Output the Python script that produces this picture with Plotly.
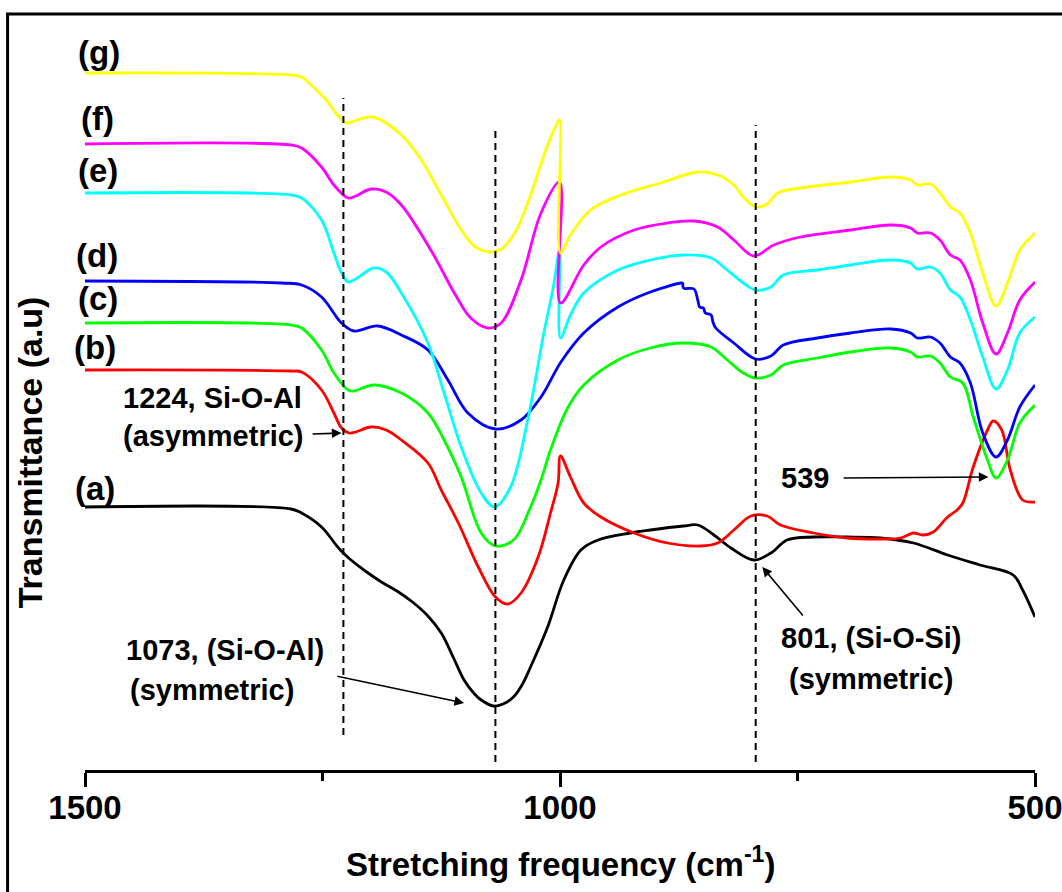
import plotly.graph_objects as go

# ---------------- data (wavenumber cm-1, transmittance a.u.) ----------------
wn_a = [1500, 1283, 1272, 1251, 1234, 1227, 1220, 1205, 1188, 1170, 1154, 1140, 1125, 1112, 1101, 1090, 1083, 1070,
        1060, 1049, 1040, 1031, 1013, 996, 978, 960,
        926, 905, 870, 855, 838, 820, 796, 778, 761, 733, 698, 663, 628, 592, 558, 523, 513, 500]
t_a = [26.3, 26.1, 25.7, 24.3, 22.3, 21.6, 21.0, 19.9, 18.8, 17.8, 16.7, 15.5, 13.7, 11.2, 9.0, 7.6, 7.0, 6.4,
       6.6, 7.3, 8.5, 10.3, 14.3, 19.0, 22.0, 23.0,
       23.7, 24.0, 24.4, 24.5, 23.5, 22.2, 21.0, 21.7, 23.0, 23.3, 23.3, 23.2, 22.7, 21.5, 20.5, 19.5, 18.0, 15.3]

wn_b = [1500, 1283, 1272, 1251, 1238, 1230, 1222, 1215, 1199, 1183, 1167, 1139, 1125, 1107, 1086, 1068, 1055, 1041,
        1023, 1010, 1002, 999.5, 989, 975, 957, 922, 887, 852, 834, 817, 799, 782, 768, 733, 698, 663, 642, 628, 618,
        607, 592, 582, 576, 565, 550, 544, 535, 526, 513, 500]
t_b = [40.0, 39.9, 39.8, 38.0, 35.7, 34.2, 33.7, 33.8, 34.3, 34.0, 33.0, 30.7, 28.0, 24.7, 20.3, 17.3, 16.6, 17.7,
       21.3, 25.7, 28.7, 31.4, 29.3, 26.7, 25.3, 23.7, 22.7, 22.4, 22.7, 24.0, 25.4, 25.4, 24.5, 23.7, 23.2, 23.1,
       23.2, 23.7, 23.5, 23.8, 25.3, 26.0, 26.7, 30.3, 34.0, 34.9, 34.0, 30.0, 27.0, 26.8]

wn_c = [1500, 1283, 1272, 1251, 1238, 1223, 1217, 1196, 1167, 1139, 1122, 1104, 1083, 1068, 1049, 1031, 1020, 1010,
        992, 975, 939, 905, 870, 841, 824, 807, 794, 778, 765, 729, 694, 652, 631, 624, 610, 600, 589, 576, 565, 550,
        541, 529, 516, 500]
t_c = [44.7, 44.5, 44.2, 42.0, 39.7, 38.0, 37.9, 38.5, 37.7, 35.7, 33.0, 29.3, 23.7, 22.4, 23.0, 26.3, 29.0, 32.0,
       36.2, 38.5, 41.0, 42.2, 42.7, 42.3, 41.0, 39.7, 39.2, 39.5, 40.5, 41.2, 41.8, 42.2, 41.8, 41.3, 41.4, 40.7,
       39.3, 38.7, 35.3, 31.0, 29.2, 31.0, 34.7, 36.5]

wn_d = [1500, 1293, 1272, 1251, 1230, 1217, 1192, 1167, 1139, 1118, 1097, 1068, 1041, 1020, 999, 975, 939, 905, 873,
        871, 870, 859, 855, 853, 849, 847, 841, 839, 836, 817, 794, 778, 765, 729, 694, 652, 631, 624, 610, 600, 589,
        579, 568, 555, 541, 529, 516, 500]
t_d = [48.9, 48.7, 48.5, 47.3, 44.7, 43.9, 44.4, 43.5, 42.0, 39.0, 35.7, 34.1, 35.0, 37.3, 40.8, 43.7, 46.3, 47.8, 48.7,
       48.7, 48.2, 48.1, 47.0, 46.3, 46.2, 45.7, 45.5, 44.8, 44.2, 42.7, 41.1, 41.4, 42.5, 43.2, 43.7, 44.1, 43.7,
       43.2, 43.3, 42.7, 41.3, 40.7, 38.7, 33.7, 31.3, 33.0, 36.3, 38.5]

wn_e = [1500, 1283, 1272, 1251, 1238, 1230, 1223, 1215, 1196, 1183, 1167, 1139, 1122, 1104, 1083, 1069, 1052, 1034,
        1017, 1007, 1000.5, 999.5, 989, 975, 939, 905, 870, 841, 824, 807, 794, 778, 765, 729, 694, 652, 631, 624, 610,
        600, 589, 579, 568, 555, 541, 529, 516, 500]
t_e = [57.7, 57.5, 57.2, 55.0, 51.7, 49.7, 48.8, 49.1, 50.2, 49.8, 47.7, 42.7, 37.7, 32.3, 27.7, 26.3, 28.3, 35.0,
       43.7, 48.3, 52.0, 43.2, 45.5, 47.7, 50.0, 51.0, 51.5, 51.2, 50.0, 48.7, 48.0, 48.3, 49.5, 50.0, 50.5, 51.0,
       50.7, 50.1, 50.3, 49.7, 48.0, 47.3, 45.0, 41.3, 38.1, 40.0, 43.7, 45.3]

wn_f = [1500, 1283, 1272, 1251, 1238, 1223, 1215, 1199, 1183, 1167, 1136, 1110, 1094, 1076, 1062, 1041, 1020, 1000.5,
        999.5, 975, 957, 922, 887, 859, 834, 817, 796, 775, 747, 694, 652, 631, 624, 610, 600, 589, 579, 568, 555, 541,
        529, 516, 500]
t_f = [62.6, 62.5, 62.2, 60.3, 58.5, 57.2, 57.4, 58.1, 57.8, 56.5, 52.0, 47.5, 45.2, 44.2, 44.7, 49.0, 55.7, 58.8,
       46.7, 50.5, 52.3, 54.0, 54.7, 54.9, 54.3, 53.0, 51.4, 52.5, 53.3, 54.0, 54.5, 54.2, 53.7, 53.7, 53.0, 51.5,
       51.0, 49.0, 44.7, 41.6, 43.7, 47.0, 48.8]

wn_g = [1500, 1283, 1272, 1262, 1246, 1236, 1225, 1217, 1197, 1167, 1146, 1125, 1104, 1089, 1073, 1062, 1047, 1031,
        1015, 1004, 1000.5, 999.5, 989, 968, 936, 894, 855, 834, 817, 807, 794, 782, 771, 747, 694, 652, 631, 624, 610,
        600, 589, 579, 568, 555, 541, 529, 516, 500]
t_g = [69.7, 69.5, 69.3, 68.5, 67.0, 65.7, 64.7, 64.9, 65.3, 63.5, 61.0, 57.5, 54.0, 52.3, 51.8, 52.1, 53.8, 57.5,
       62.0, 64.5, 65.0, 51.7, 53.5, 56.0, 57.5, 58.7, 59.8, 59.5, 58.5, 57.3, 56.3, 56.6, 57.7, 58.2, 58.8, 59.3,
       59.0, 58.5, 58.6, 57.7, 56.3, 55.7, 53.7, 49.7, 46.4, 48.7, 52.0, 53.7]

series = [
    ("(a)", wn_a, t_a, "#000000"),
    ("(b)", wn_b, t_b, "#FF0000"),
    ("(c)", wn_c, t_c, "#00FF00"),
    ("(d)", wn_d, t_d, "#0000FF"),
    ("(e)", wn_e, t_e, "#00FFFF"),
    ("(f)", wn_f, t_f, "#FF00FF"),
    ("(g)", wn_g, t_g, "#FFFF00"),
]

# curve label positions (wavenumber, transmittance)
label_text = ["(g)", "(f)", "(e)", "(d)", "(c)", "(b)", "(a)"]
label_wn = [1485, 1487, 1486, 1487, 1486, 1490, 1489]
label_t = [71.8, 65.2, 60.0, 51.5, 47.2, 42.3, 28.2]

# reference (dashed) band positions and their vertical extents
band_wn = [1228, 1068, 794]
band_top = [67.2, 64.2, 64.5]
band_bottom = [3.5, 0.8, 0.8]

x_ticks = [1500, 1000, 500]

FONT = "Arial, 'Liberation Sans', sans-serif"

fig = go.Figure()
for name, wn, t, col in series:
    fig.add_trace(go.Scatter(x=wn, y=t, mode="lines", name=name,
                             line=dict(color=col, width=2.8, shape="spline", smoothing=1.0),
                             showlegend=False, hoverinfo="skip"))

for bx, bt, bb in zip(band_wn, band_top, band_bottom):
    fig.add_shape(type="line", xref="x", yref="y", x0=bx, x1=bx, y0=bb, y1=bt,
                  line=dict(color="black", width=2, dash="7px,5px"))

annotations = []
for txt, lx, ly in zip(label_text, label_wn, label_t):
    annotations.append(dict(x=lx, y=ly, xref="x", yref="y", text="<b>%s</b>" % txt, showarrow=False,
                            font=dict(size=33, color="black", family=FONT)))

ann_font = dict(size=29, color="black", family=FONT)
# peak annotations (text)
annotations += [
    dict(x=1366, y=37.2, text="<b>1224, Si-O-Al</b>", showarrow=False, font=ann_font),
    dict(x=1365, y=33.4, text="<b>(asymmetric)</b>", showarrow=False, font=ann_font),
    dict(x=1459, y=12.0, text="<b>1073, (Si-O-Al)</b>", showarrow=False, font=ann_font, xanchor="left"),
    dict(x=1455, y=8.0, text="<b>(symmetric)</b>", showarrow=False, font=ann_font, xanchor="left"),
    dict(x=672, y=13.2, text="<b>801, (Si-O-Si)</b>", showarrow=False, font=ann_font),
    dict(x=673, y=9.1, text="<b>(symmetric)</b>", showarrow=False, font=ann_font),
    dict(x=742, y=29.2, text="<b>539</b>", showarrow=False, font=ann_font),
]
# arrows (head x,y ; tail ax,ay)
arrows = [
    (1230, 33.7, 1262, 33.6),
    (1101, 6.7, 1236, 9.4),
    (787, 20.3, 743, 15.3),
    (549, 29.3, 703, 29.2),
]
for hx, hy, tx, ty in arrows:
    annotations.append(dict(x=hx, y=hy, ax=tx, ay=ty, xref="x", yref="y", axref="x", ayref="y",
                            text="", showarrow=True, arrowhead=2, arrowsize=1.2, arrowwidth=1.6,
                            arrowcolor="black"))

# axis titles
annotations.append(dict(x=0.5, y=-0.152, xref="paper", yref="paper",
                        text="<b>Stretching frequency (cm<sup>-1</sup>)</b>", showarrow=False,
                        font=dict(size=33, color="black", family=FONT)))
annotations.append(dict(x=-0.057, y=0.42, xref="paper", yref="paper", textangle=-90,
                        xanchor="center", yanchor="middle",
                        text="<b>Transmittance (a.u)</b>", showarrow=False,
                        font=dict(size=34, color="black", family=FONT)))

# outer frame
fig.add_shape(type="rect", xref="paper", yref="paper", x0=-0.0815, x1=1.3, y0=-0.4, y1=1.0,
              line=dict(color="black", width=3), fillcolor="rgba(0,0,0,0)", layer="above")

fig.update_layout(
    template="none",
    width=1062, height=892,
    margin=dict(l=85, r=27, t=14, b=122, autoexpand=False),
    paper_bgcolor="white", plot_bgcolor="white",
    annotations=annotations,
    xaxis=dict(range=[1500, 500], showgrid=False, zeroline=False, automargin=False,
               showline=True, linecolor="black", linewidth=3,
               ticks="outside", ticklen=14, tickwidth=3, tickcolor="black",
               tickmode="array", tickvals=x_ticks, ticktext=["<b>%d</b>" % v for v in x_ticks],
               tickfont=dict(size=33, color="black", family=FONT),
               ticklabeloverflow="allow", ticklabelstandoff=-8,
               minor=dict(ticks="outside", ticklen=8, tickwidth=3, tickcolor="black",
                          tickvals=[1250, 750], showgrid=False)),
    yaxis=dict(range=[0, 75.6], visible=False, automargin=False),
)

fig.write_html("out.html")
